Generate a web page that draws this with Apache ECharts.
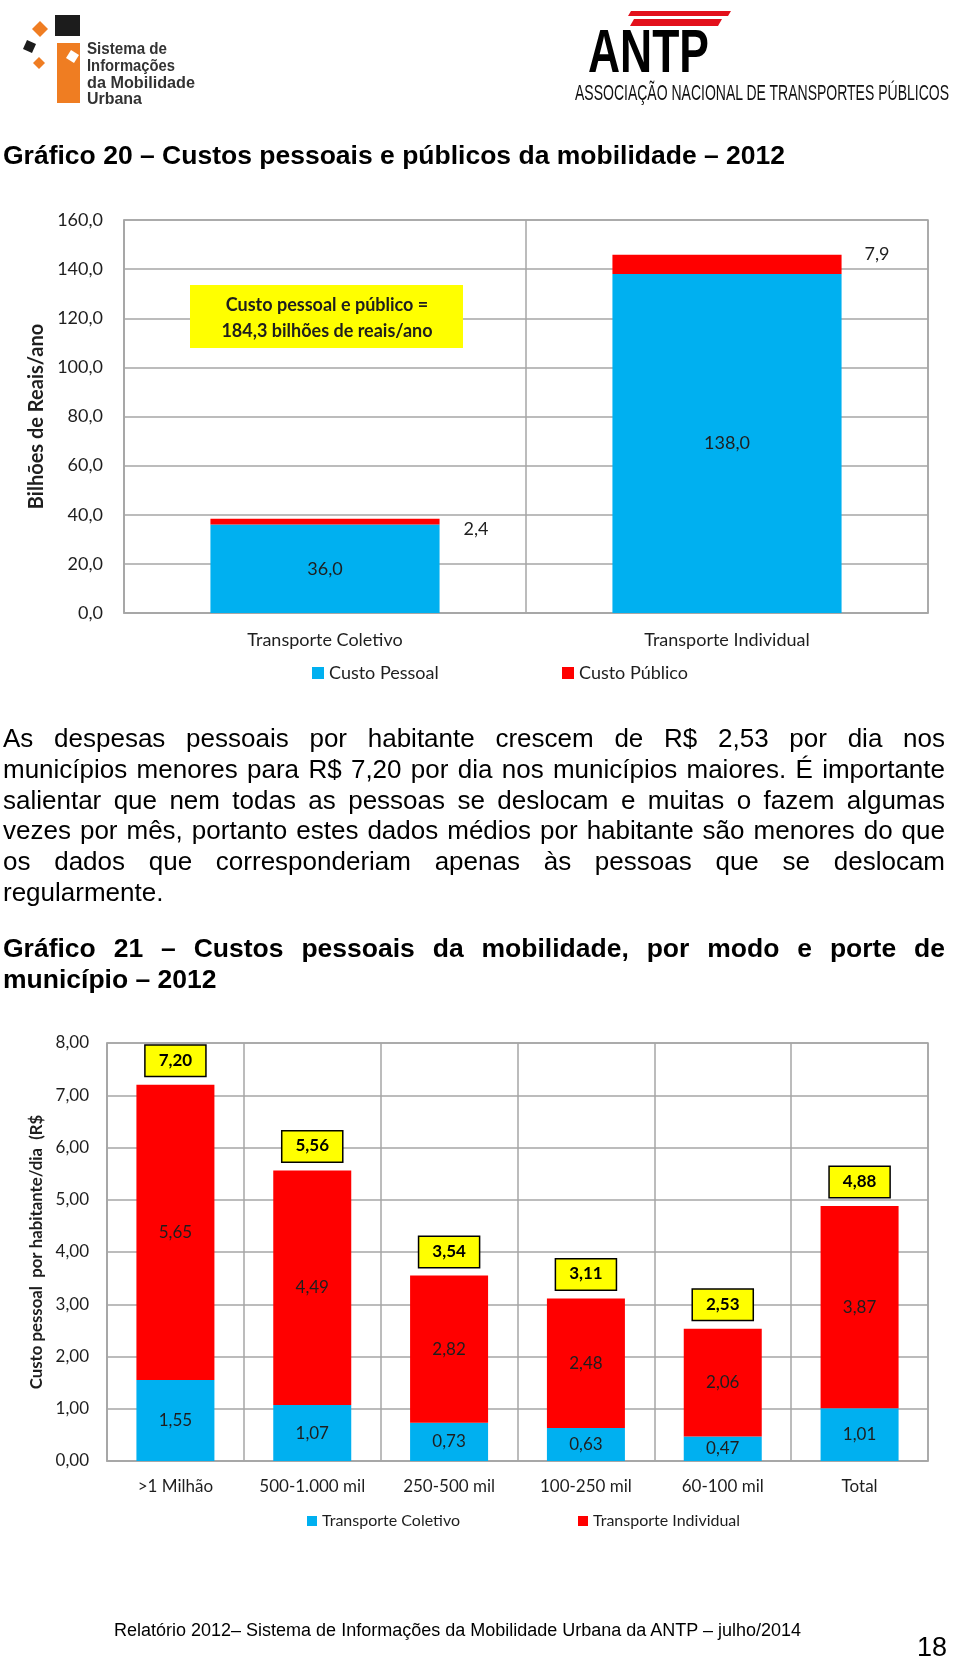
<!DOCTYPE html>
<html><head><meta charset="utf-8">
<script src="https://cdn.jsdelivr.net/npm/echarts@6/dist/echarts.min.js"></script>
<style>
html,body{margin:0;padding:0;background:#fff;}
#page{position:relative;width:960px;height:1660px;overflow:hidden;background:#fff;}
#chart{position:absolute;left:0;top:0;width:960px;height:1660px;}
.t{position:absolute;font-family:"Liberation Sans",Arial,sans-serif;color:#000;white-space:nowrap;}
.p{position:absolute;left:3px;width:942px;font-family:"Liberation Sans",Arial,sans-serif;font-size:26px;line-height:30.8px;color:#000;text-align:justify;text-align-last:justify;}
.b{font-weight:bold;font-size:26.5px;}
</style></head>
<body><div id="page">
<div id="chart"></div>
<svg style="position:absolute;left:0;top:0" width="960" height="110" xmlns="http://www.w3.org/2000/svg">
  <polygon points="40,21 48,29 40,37 32,29" fill="#EF7D22"/>
  <rect x="55" y="15" width="25" height="21" fill="#1c1c1c"/>
  <polygon points="27,40 36,44 32,53 23,49" fill="#1c1c1c"/>
  <polygon points="39,57 45,63 39,69 33,63" fill="#EF7D22"/>
  <rect x="57" y="43" width="23" height="60" fill="#EF7D22"/>
  <polygon points="71,50 79,55 74,63 66,58" fill="#fff"/>
  <g font-family="Liberation Sans, Arial, sans-serif" font-weight="bold" font-size="17" fill="#333">
    <text x="87" y="54" textLength="80" lengthAdjust="spacingAndGlyphs">Sistema de</text>
    <text x="87" y="71" textLength="88" lengthAdjust="spacingAndGlyphs">Informações</text>
    <text x="87" y="88" textLength="108" lengthAdjust="spacingAndGlyphs">da Mobilidade</text>
    <text x="87" y="104" textLength="55" lengthAdjust="spacingAndGlyphs">Urbana</text>
  </g>
  <polygon points="631,11 731,11 728,16 628,16" fill="#E3101B"/>
  <polygon points="634,19 722,19 718,26 630,26" fill="#E3101B"/>
  <text x="588" y="72" font-family="Liberation Sans, Arial, sans-serif" font-weight="bold" font-size="62" textLength="121" lengthAdjust="spacingAndGlyphs" fill="#000">ANTP</text>
  <text x="575" y="100" font-family="Liberation Sans, Arial, sans-serif" font-size="22" textLength="374" lengthAdjust="spacingAndGlyphs" fill="#111">ASSOCIAÇÃO NACIONAL DE TRANSPORTES PÚBLICOS</text>
</svg>
<div class="t b" style="left:3px;top:140px;line-height:30.8px">Gráfico 20 – Custos pessoais e públicos da mobilidade – 2012</div>
<div class="p" style="top:723px">As despesas pessoais por habitante crescem de R$ 2,53 por dia nos</div>
<div class="p" style="top:753.8px">municípios menores para R$ 7,20 por dia nos municípios maiores. É importante</div>
<div class="p" style="top:784.6px">salientar que nem todas as pessoas se deslocam e muitas o fazem algumas</div>
<div class="p" style="top:815.4px">vezes por mês, portanto estes dados médios por habitante são menores do que</div>
<div class="p" style="top:846.2px">os dados que corresponderiam apenas às pessoas que se deslocam</div>
<div class="p" style="top:877px;text-align:left;text-align-last:left">regularmente.</div>
<div class="p b" style="top:933px">Gráfico 21 – Custos pessoais da mobilidade, por modo e porte de</div>
<div class="p b" style="top:964px;text-align:left;text-align-last:left">município – 2012</div>
<div class="t" style="left:114px;top:1620px;font-size:18px;line-height:20px">Relatório 2012– Sistema de Informações da Mobilidade Urbana da ANTP – julho/2014</div>
<div class="t" style="left:917px;top:1632px;font-size:27px;line-height:30px">18</div>
</div>
<script>
// ---- Gráfico 20 data ----
const cats1 = ['Transporte Coletivo', 'Transporte Individual'];
const custoPessoal = [36.0, 138.0];
const custoPublico = [2.4, 7.9];
const annotationText = 'Custo pessoal e público =\n184,3 bilhões de reais/ano';

// ---- Gráfico 21 data ----
const cats2 = ['>1 Milhão', '500-1.000 mil', '250-500 mil', '100-250 mil', '60-100 mil', 'Total'];
const transpColetivo = [1.55, 1.07, 0.73, 0.63, 0.47, 1.01];
const transpIndividual = [5.65, 4.49, 2.82, 2.48, 2.06, 3.87];
const totais = [7.20, 5.56, 3.54, 3.11, 2.53, 4.88];

// ---- styles ----
const BLUE = '#00B0F0', RED = '#FF0000', GRID = '#A6A6A6', TXT = '#1e1e1e';
const FONT = 'Lato';
const pubLabelOffsets = [[19, 8], [18, -10]];
const fmt1 = v => Number(v).toFixed(1).replace('.', ',');
const fmt2 = v => Number(v).toFixed(2).replace('.', ',');
const lineStyle = {color: GRID, width: 1.5};

const chart = echarts.init(document.getElementById('chart'));
chart.setOption({
  animation: false,
  textStyle: {fontFamily: FONT},
  grid: [
    {left: 124, top: 220, width: 804, height: 393, show: true, borderColor: GRID, borderWidth: 1.5},
    {left: 107, top: 1043, width: 821, height: 418, show: true, borderColor: GRID, borderWidth: 1.5}
  ],
  legend: [
    {data: ['Custo Pessoal'], left: 312, top: 664, padding: 0, icon: 'rect', itemWidth: 12, itemHeight: 12, itemGap: 5, textStyle: {fontSize: 18, color: TXT, fontFamily: FONT}},
    {data: ['Custo Público'], left: 562, top: 664, padding: 0, icon: 'rect', itemWidth: 12, itemHeight: 12, textStyle: {fontSize: 18, color: TXT, fontFamily: FONT}},
    {data: ['Transporte Coletivo'], left: 307, top: 1513, padding: 0, icon: 'rect', itemWidth: 10, itemHeight: 10, textStyle: {fontSize: 16, color: TXT, fontFamily: FONT}},
    {data: ['Transporte Individual'], left: 578, top: 1513, padding: 0, icon: 'rect', itemWidth: 10, itemHeight: 10, textStyle: {fontSize: 16, color: TXT, fontFamily: FONT}}
  ],
  xAxis: [
    {gridIndex: 0, type: 'category', data: cats1, axisTick: {show: false}, axisLine: {lineStyle},
     splitLine: {show: true, lineStyle}, axisLabel: {fontSize: 18, color: TXT, margin: 18}},
    {gridIndex: 1, type: 'category', data: cats2, axisTick: {show: false}, axisLine: {lineStyle},
     splitLine: {show: true, lineStyle}, axisLabel: {fontSize: 17, color: TXT, margin: 17, interval: 0}}
  ],
  yAxis: [
    {gridIndex: 0, type: 'value', min: 0, max: 160, interval: 20,
     axisLine: {show: true, lineStyle}, axisTick: {show: false}, splitLine: {lineStyle},
     axisLabel: {formatter: fmt1, fontSize: 18, color: TXT, margin: 21},
     name: 'Bilhões de Reais/ano', nameLocation: 'middle', nameGap: 69,
     nameTextStyle: {fontSize: 20, fontWeight: 'bold', color: TXT}},
    {gridIndex: 1, type: 'value', min: 0, max: 8, interval: 1,
     axisLine: {show: true, lineStyle}, axisTick: {show: false}, splitLine: {lineStyle},
     axisLabel: {formatter: fmt2, fontSize: 17, color: TXT, margin: 18},
     name: 'Custo pessoal  por habitante/dia  (R$', nameLocation: 'middle', nameGap: 54,
     nameTextStyle: {fontSize: 16.8, fontWeight: 'bold', color: TXT}}
  ],
  series: [
    {name: 'Custo Pessoal', type: 'bar', xAxisIndex: 0, yAxisIndex: 0, stack: 'g20', barWidth: '57%',
     data: custoPessoal, itemStyle: {color: BLUE},
     label: {show: true, position: 'inside', formatter: p => fmt1(p.value), fontSize: 18, color: TXT}},
    {name: 'Custo Público', type: 'bar', xAxisIndex: 0, yAxisIndex: 0, stack: 'g20', barWidth: '57%',
     data: custoPublico.map((v, i) => ({value: v, label: {offset: pubLabelOffsets[i]}})), itemStyle: {color: RED},
     label: {show: true, position: 'right', distance: 5, formatter: p => fmt1(p.value), fontSize: 18, color: TXT}},
    {name: 'Transporte Coletivo', type: 'bar', xAxisIndex: 1, yAxisIndex: 1, stack: 'g21', barWidth: '57%', barGap: '-100%',
     data: transpColetivo, itemStyle: {color: BLUE},
     label: {show: true, position: 'inside', formatter: p => fmt2(p.value), fontSize: 17, color: TXT}},
    {name: 'Transporte Individual', type: 'bar', xAxisIndex: 1, yAxisIndex: 1, stack: 'g21', barWidth: '57%', barGap: '-100%',
     data: transpIndividual, itemStyle: {color: RED},
     label: {show: true, position: 'inside', formatter: p => fmt2(p.value), fontSize: 17, color: TXT}},
    {name: 'Total', type: 'bar', xAxisIndex: 1, yAxisIndex: 1, barWidth: '57%', barGap: '-100%', silent: true,
     data: totais, itemStyle: {color: 'rgba(0,0,0,0)'}, z: 1,
     label: {show: true, position: 'top', distance: 9, formatter: p => fmt2(p.value), fontSize: 17, fontWeight: 'bold',
             color: '#000', backgroundColor: '#FFFF00', borderColor: '#000', borderWidth: 1.5,
             padding: [5, 13, 6, 13], lineHeight: 19}}
  ],
  graphic: [
    {type: 'rect', shape: {x: 190, y: 285, width: 273, height: 63}, style: {fill: '#FFFF00'}, z: 10},
    {type: 'text', x: 327, y: 318, z: 11,
     style: {text: annotationText, font: 'bold 18px Lato', fontFamily: FONT, fontSize: 18, fontWeight: 'bold',
             align: 'center', verticalAlign: 'middle', textAlign: 'center', textVerticalAlign: 'middle',
             lineHeight: 26, fill: TXT}}
  ]
});
</script>
</body></html>
